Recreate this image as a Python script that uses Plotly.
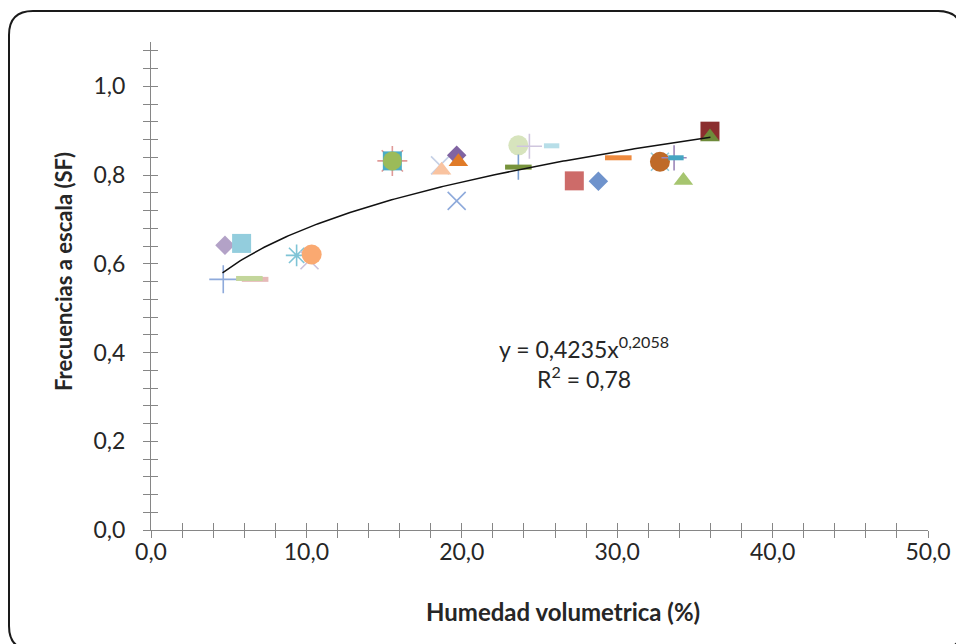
import numpy as np
import plotly.graph_objects as go

# ---------------- data ----------------
X_VALUES = [4.65, 6.70, 6.33, 4.76, 5.83, 9.37, 10.20, 10.34, 15.53, 15.53, 15.53,
            18.60, 18.70, 19.67, 19.78, 19.67, 23.64, 24.35, 25.78, 23.64, 23.64,
            27.24, 28.79, 30.07, 32.75, 32.75, 33.66, 33.78, 34.26, 35.97, 35.97]
Y_VALUES = [0.565, 0.565, 0.567, 0.642, 0.646, 0.619, 0.608, 0.621, 0.832, 0.832, 0.832,
            0.822, 0.811, 0.845, 0.830, 0.742, 0.867, 0.865, 0.866, 0.818, 0.818,
            0.787, 0.786, 0.839, 0.830, 0.830, 0.839, 0.839, 0.788, 0.899, 0.886]
TREND_A = 0.4235
TREND_B = 0.2058
TREND_X_MIN = 4.6
TREND_X_MAX = 36.0
X_TICKS = [0, 10, 20, 30, 40, 50]
Y_TICKS = [0.0, 0.2, 0.4, 0.6, 0.8, 1.0]
X_TITLE = "Humedad volumetrica (%)"
Y_TITLE = "Frecuencias a escala (SF)"
EQUATION = "y = 0,4235x<sup>0,2058</sup><br>R<sup>2</sup> = 0,78"

# ---------------- styles ----------------
SYMBOLS = ["cross-thin-open", "line-ew-open", "line-ew-open", "diamond", "square",
           "asterisk-open", "x-thin-open", "circle", "asterisk-open", "square", "circle",
           "x-thin-open", "triangle-up", "diamond", "triangle-up", "x-thin-open",
           "circle", "cross-thin-open", "line-ew-open", "cross-thin-open", "line-ew-open",
           "square", "diamond", "line-ew-open", "x-thin-open", "circle",
           "cross-thin-open", "line-ew-open", "triangle-up", "square", "triangle-up"]
COLORS = ["#8eaadb", "#e6b9b8", "#c3d69b", "#b3a2c7", "#93cddd",
          "#7fc4d6", "#ccc1da", "#faa971", "#e09a98", "#4bacc6", "#9bbb59",
          "#c5d0e6", "#f9c3a0", "#8064a2", "#e07b28", "#8eaadb",
          "#d7e4bd", "#cfc6de", "#b7dee8", "#7a9fd1", "#77933c",
          "#cd6b69", "#6f93cc", "#ee8a3e", "#93cddd", "#bf6a28",
          "#9c86b9", "#46a5c2", "#a6c56f", "#8b2e2e", "#6e8b3a"]
SIZES = [20, 19, 19, 15, 19, 18, 18, 20, 25, 19, 19,
         18, 17, 15, 17, 18, 20, 18, 11, 18, 19,
         19, 15, 19, 18, 20, 18, 11, 17, 19, 17]

W, H = 956, 644
L, R, T, B = 151, 928, 42, 530
FONT = "Lato"
AXIS_COLOR = "#868686"
TEXT_COLOR = "#262626"

fig = go.Figure()

for xv, yv, sym, col, sz in zip(X_VALUES, Y_VALUES, SYMBOLS, COLORS, SIZES):
    if sym.startswith("line-ew"):
        line = dict(color=col, width=5)
    elif sym.endswith("-open"):
        line = dict(color=col, width=1.6)
    else:
        line = dict(color=col, width=0)
    fig.add_trace(go.Scatter(x=[xv], y=[yv], mode="markers",
                             marker=dict(symbol=sym, size=sz, color=col, line=line),
                             showlegend=False, hoverinfo="x+y"))

tx = np.linspace(TREND_X_MIN, TREND_X_MAX, 200)
fig.add_trace(go.Scatter(x=tx, y=TREND_A * tx ** TREND_B, mode="lines",
                         line=dict(color="#111111", width=1.5),
                         showlegend=False, hoverinfo="skip"))

# dummy trace for the overlay axes (other half of crossing ticks)
fig.add_trace(go.Scatter(x=[0], y=[0], xaxis="x2", yaxis="y2", mode="markers",
                         marker=dict(opacity=0), showlegend=False, hoverinfo="skip"))

tickfont = dict(family=FONT, size=23, color=TEXT_COLOR)
common = dict(showgrid=False, zeroline=False, tickcolor=AXIS_COLOR, ticklen=7,
              tickwidth=1, automargin=False)

fig.update_layout(
    width=W, height=H,
    margin=dict(l=L, r=W - R, t=T, b=H - B),
    paper_bgcolor="white", plot_bgcolor="white",
    separators=",.",
    showlegend=False,
    xaxis=dict(range=[0, 50], tickvals=X_TICKS, tickformat=".1f", ticks="inside",
               showline=True, linecolor=AXIS_COLOR, linewidth=1, tickfont=tickfont,
               minor=dict(dtick=2, ticks="inside", ticklen=7, tickcolor=AXIS_COLOR),
               ticklabelstandoff=1, **common),
    yaxis=dict(range=[0, 1.1], tickvals=Y_TICKS, tickformat=".1f", ticks="outside",
               showline=True, linecolor=AXIS_COLOR, linewidth=1, tickfont=tickfont,
               minor=dict(dtick=0.04, tick0=0, ticks="outside", ticklen=7, tickcolor=AXIS_COLOR),
               ticklabelstandoff=13, **common),
    xaxis2=dict(overlaying="x", matches="x", anchor="y", side="bottom", range=[0, 50],
                tickvals=X_TICKS, ticks="outside", showticklabels=False, showline=False,
                minor=dict(dtick=2, ticks="outside", ticklen=7, tickcolor=AXIS_COLOR), **common),
    yaxis2=dict(overlaying="y", matches="y", anchor="x", side="left", range=[0, 1.1],
                tickvals=Y_TICKS, ticks="inside", showticklabels=False, showline=False,
                minor=dict(dtick=0.04, tick0=0, ticks="inside", ticklen=7, tickcolor=AXIS_COLOR), **common),
)

def px(x):
    return (x - L) / (R - L)

def py(y):
    return (B - y) / (B - T)

# axis titles and equation
fig.add_annotation(text=f"<b>{X_TITLE}</b>", xref="paper", yref="paper",
                   x=px(563), y=py(611), xanchor="center", yanchor="middle",
                   showarrow=False, font=dict(family=FONT, size=24, color=TEXT_COLOR))
fig.add_annotation(text=f"<b>{Y_TITLE}</b>", xref="paper", yref="paper",
                   x=px(63), y=py(272), xanchor="center", yanchor="middle",
                   showarrow=False, textangle=-90,
                   font=dict(family=FONT, size=22, color=TEXT_COLOR))
fig.add_annotation(text=EQUATION, xref="paper", yref="paper",
                   x=px(584), y=py(362), xanchor="center", yanchor="middle",
                   showarrow=False, align="center",
                   font=dict(family=FONT, size=23, color=TEXT_COLOR))

# rounded chart border
x0, y0, x1, y1, r = 9, 11, 962, 650, 24
pts = [("M", x0 + r, y0), ("L", x1 - r, y0), ("Q", x1, y0, x1, y0 + r),
       ("L", x1, y1 - r), ("Q", x1, y1, x1 - r, y1), ("L", x0 + r, y1),
       ("Q", x0, y1, x0, y1 - r), ("L", x0, y0 + r), ("Q", x0, y0, x0 + r, y0)]
path = ""
for p in pts:
    cmd = p[0]
    coords = p[1:]
    segs = []
    for i in range(0, len(coords), 2):
        segs.append(f"{px(coords[i]):.5f},{py(coords[i+1]):.5f}")
    path += cmd + " " + " ".join(segs) + " "
path += "Z"
fig.add_shape(type="path", path=path, xref="paper", yref="paper",
              line=dict(color="#1a1a1a", width=2), fillcolor="rgba(0,0,0,0)")

fig.write_html("out.html")
